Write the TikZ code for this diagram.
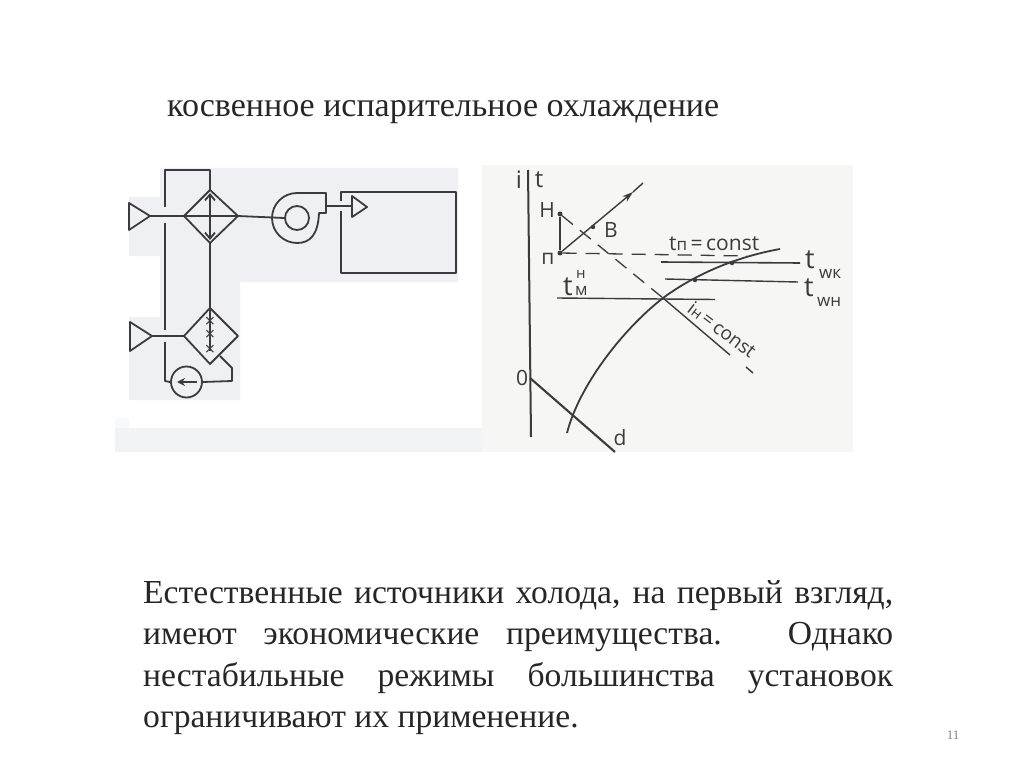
\documentclass[tikz,border=0pt]{standalone}
\usepackage{fontspec}
\setmainfont{Liberation Serif}
\newfontfamily\handfont{Open Sans}
\usetikzlibrary{arrows.meta}
\definecolor{ink}{HTML}{3C3A3C}
\definecolor{leftbg}{HTML}{EFF0F3}
\definecolor{stripbg}{HTML}{F1F3F7}
\definecolor{stepbg}{HTML}{F8F9FA}
\definecolor{rightbg}{HTML}{F6F6F4}
\definecolor{txt}{HTML}{262626}
\tikzset{
  x=1pt,y=-1pt,
  thin line/.style={draw=ink,line width=1.4pt,line join=round},
  med line/.style={draw=ink,line width=1.8pt,line join=round},
  thick line/.style={draw=ink,line width=2.4pt},
  long dash/.style={draw=ink,line width=1.3pt,dash pattern=on 14pt off 9pt},
  pt/.style={circle,fill=ink,inner sep=0pt,minimum size=5pt},
  hand/.style={font=\handfont\fontsize{21}{21}\selectfont,text=ink,inner sep=0pt},
  handbig/.style={font=\handfont\fontsize{27}{27}\selectfont,text=ink,inner sep=0pt,anchor=base west},
  handsmall/.style={font=\handfont\fontsize{17}{17}\selectfont,text=ink,inner sep=0pt,anchor=base west},
  xm/.style={font=\handfont\fontsize{18}{18}\selectfont,text=ink,inner sep=0pt},
  barb/.style={-{Straight Barb[length=6pt,width=10pt]}},
}
\begin{document}
\begin{tikzpicture}
\useasboundingbox (0,0) rectangle (1024,767);
% backgrounds
\fill[leftbg] (160,168) -- (458,168) -- (458,282) -- (240,282) -- (240,400) -- (129,400) -- (129,317) -- (160,317) -- (160,256) -- (129,256) -- (129,197) -- (160,197) -- cycle;
\fill[stepbg] (115,418) rectangle (129,428);
\fill[stripbg] (115,428) rectangle (482,452);
\fill[rightbg] (482,165) rectangle (853,452);
% title
\node[anchor=base west,inner sep=0pt,text=txt,font=\fontsize{34}{34}\selectfont] (title) at (167,117) {косвенное испарительное охлаждение};
% paragraph
\node[anchor=north west,inner sep=0pt,text=txt,text width=750pt,align=justify,font=\fontsize{33.6}{41.4}\selectfont] (para) at (143,580)
{Естественные источники холода, на первый взгляд, имеют экономические преимущества. Однако нестабильные режимы большинства установок ограничивают их применение.};
\node[anchor=center,inner sep=0pt,text=gray,font=\fontsize{13}{13}\selectfont] (pagenum) at (953,735) {11};
% left schematic
\coordinate (t1) at (129,203); \coordinate (t1tip) at (150,216); \coordinate (t1b) at (129,230);
\coordinate (t2) at (130,322); \coordinate (t2tip) at (152,336); \coordinate (t2b) at (130,351);
\draw[med line] (t1) -- (t1tip) -- (t1b) -- cycle;
\draw[med line] (t2) -- (t2tip) -- (t2b) -- cycle;
\coordinate (d1t) at (210,190); \coordinate (d1r) at (238,216); \coordinate (d1b) at (210,243); \coordinate (d1l) at (184,216);
\draw[med line] (d1t) -- (d1r) -- (d1b) -- (d1l) -- cycle;
\coordinate (d2t) at (210,308); \coordinate (d2r) at (238,336); \coordinate (d2b) at (210,364); \coordinate (d2l) at (184,336);
\draw[med line] (d2t) -- (d2r) -- (d2b) -- (d2l) -- cycle;
% loop
\coordinate (topL) at (165,170); \coordinate (topR) at (210,170);
\coordinate (gap1a) at (165,207); \coordinate (gap1b) at (165,223);
\coordinate (gap2a) at (165,330); \coordinate (gap2b) at (165,342);
\coordinate (pumpL) at (165,381);
\draw[med line] (gap1a) -- (topL) -- (topR) -- (d1t);
\draw[med line] (gap1b) -- (gap2a);
\node[circle,draw=ink,line width=1.8pt,minimum size=31pt,inner sep=0pt] (pump) at (186.5,382) {};
\draw[med line] (gap2b) -- (pumpL) -- (pump.west);
% process lines
\node[circle,draw=ink,line width=1.8pt,minimum size=24pt,inner sep=0pt] (fanhub) at (297,218) {};
\draw[med line] (t1tip) -- (d1l) -- (d1r) -- (fanhub.west);
\draw[med line] (t2tip) -- (d2l);
\draw[med line] (d1b) -- (d2t) -- (210,351);
\draw[med line,barb] (210,216) -- (210,193);
\draw[med line,barb] (210,216) -- (210,240);
\node[xm] (x1) at (210,322) {×};
\node[xm] (x2) at (210,335) {×};
\node[xm] (x3) at (210,350) {×};
\coordinate (r1) at (220,356); \coordinate (r2) at (232,368); \coordinate (r3) at (232,381);
\draw[med line] (r1) -- (r2) -- (r3) -- (pump.east);
\draw[med line,line width=2.2pt,-{Stealth[length=8pt,width=8pt]}] (197,382) -- (177,382);
% fan
\draw[med line] (326,193) -- (297,193) arc[start angle=-90,delta angle=-180,radius=25]
  .. controls (310,243) and (318,235) .. (319,213) -- (326,213) -- cycle;
\coordinate (o1) at (326,206); \coordinate (o2) at (352,206);
\draw[med line] (o1) -- (o2);
% room
\coordinate (rA) at (341,201); \coordinate (rB) at (341,192); \coordinate (rC) at (456,192); \coordinate (rD) at (456,273); \coordinate (rE) at (341,273); \coordinate (rF) at (341,211);
\draw[med line,line width=2pt] (rA) -- (rB) -- (rC) -- (rD) -- (rE) -- (rF);
\draw[med line] (352,196) -- (367,207) -- (352,217) -- cycle;
% chart
\coordinate (ax1) at (528,170); \coordinate (ax2) at (531,437);
\draw[draw=ink,line width=2pt] (ax1) -- (ax2);
\node[hand,font=\handfont\fontsize{24}{24}\selectfont] (li) at (519,180) {i};
\node[hand,font=\handfont\fontsize{24}{24}\selectfont] (lt) at (539,180) {t};
\node[pt] (H) at (560,214) {};
\node[pt] (P) at (560,253) {};
\node[pt,minimum size=4.5pt] (B) at (593,227) {};
\coordinate (arrowEnd) at (643,183);
\draw[thick line] (H) -- (P);
\draw[thin line,-{Stealth[length=11pt,width=7pt,open]}] (P) -- (633,192);
\draw[thin line] (633,192) -- (arrowEnd);
\node[hand] (lH) at (547,210) {Н};
\node[hand] (lP) at (548,259) {п};
\node[hand] (lB) at (611,230) {В};
\coordinate (w) at (663,298);
\coordinate (pEnd) at (747,256);
\draw[long dash] (P) -- (pEnd);
\draw[long dash] (H) -- (w);
\coordinate (i1) at (730,355);
\draw[thin line] (w) -- (i1);
\coordinate (i2) at (746,367); \coordinate (i3) at (753,373);
\draw[thin line] (i2) -- (i3);
\coordinate (k1) at (661,262); \coordinate (k2) at (800,263);
\coordinate (n1) at (665,279); \coordinate (n2) at (798,282);
\coordinate (m1) at (557,298); \coordinate (m2) at (715,299.5);
\draw[thin line,line width=1.6pt] (k1) -- (k2);
\draw[thin line] (n1) -- (n2);
\draw[thin line] (m1) -- (m2);
\coordinate (c0) at (567,433);
\coordinate (c3) at (780,249);
\draw[med line] (c0) .. controls (579,386) and (622,330) .. (w)
  .. controls (690,278) and (730,258) .. (c3);
\node[pt,minimum size=4.5pt] (dk) at (732,263) {};
\node[pt,minimum size=4.5pt] (dn) at (695,280) {};
\coordinate (o) at (530,378); \coordinate (d) at (615,452);
\draw[draw=ink,line width=2.1pt] (o) -- (d);
\node[hand] (lo) at (522,378) {0};
\node[hand] (ld) at (620,438) {d};
\node[hand,anchor=base west] (ltp) at (669,251) {t{\fontsize{17}{17}\selectfont п}\,=\,const};
\node[handbig] (ltw1) at (805,268) {t};
\node[handsmall] (ltw1s) at (819,278) {wк};
\node[handbig] (ltw2) at (804,296) {t};
\node[handsmall] (ltw2s) at (817,306) {wн};
\node[handbig] (ltm) at (563,295) {t};
\node[handsmall] (ltms) at (575,295) {м};
\node[handsmall,font=\handfont\fontsize{15}{15}\selectfont] (ltmh) at (576,278) {н};
\node[hand,font=\handfont\fontsize{19}{19}\selectfont,anchor=base west,rotate=-37] (lin) at (686,311) {i{\fontsize{15}{15}\selectfont н}\,=\,const};
\end{tikzpicture}
\end{document}
